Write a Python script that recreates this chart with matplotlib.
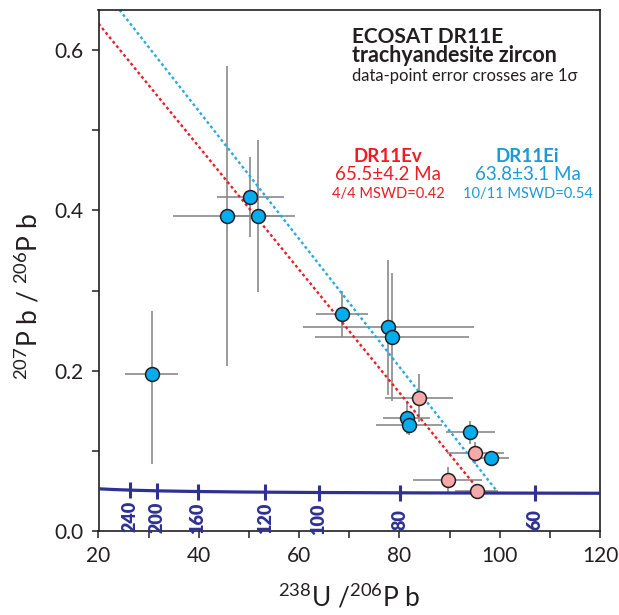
import numpy as np
import matplotlib
matplotlib.use("Agg")
import matplotlib.pyplot as plt

plt.rcParams["font.family"] = ["Lato", "DejaVu Sans"]
plt.rcParams["mathtext.default"] = "regular"

# --- data ------------------------------------------------------------------
# DR11Ei (blue), 238U/206Pb, 207Pb/206Pb and 1-sigma errors
ei_x = [30.6, 45.6, 51.9, 50.3, 68.6, 77.8, 78.5, 81.5, 81.9, 94.1, 98.3]
ei_y = [0.196, 0.393, 0.393, 0.4166, 0.271, 0.254, 0.2425, 0.1404, 0.1325, 0.123, 0.0909]
ei_xerr = [5.3, 10.8, 7.2, 6.6, 5.2, 17.0, 15.3, 4.7, 6.6, 4.9, 3.5]
ei_yerr_lo = [0.112, 0.187, 0.095, 0.05, 0.029, 0.084, 0.08, 0.02, 0.0125, 0.014, 0.005]
ei_yerr_hi = [0.079, 0.187, 0.095, 0.05, 0.029, 0.084, 0.08, 0.02, 0.0125, 0.014, 0.005]

# DR11Ev (pink)
ev_x = [83.9, 95.1, 89.6, 95.4]
ev_y = [0.1659, 0.097, 0.0634, 0.050]
ev_xerr = [6.7, 5.7, 6.8, 4.3]
ev_yerr = [0.030, 0.014, 0.016, 0.004]

# regression (discordia) lines, endpoints
ev_line_x = [20.0, 95.2]
ev_line_y = [0.633, 0.056]
ei_line_x = [24.2, 99.4]
ei_line_y = [0.650, 0.050]

# concordia age ticks (Ma)
age_ticks = [240, 200, 160, 120, 100, 80, 60]

# decay constants (1/yr) and present 238U/235U
L238 = 1.55125e-10
L235 = 9.8485e-10
U_RATIO = 137.88


def tw_concordia(t_ma):
    t = np.asarray(t_ma, dtype=float) * 1e6
    e8 = np.expm1(L238 * t)
    e5 = np.expm1(L235 * t)
    return 1.0 / e8, e5 / e8 / U_RATIO


RED = "#ED1C24"
BLUE = "#1C9AD6"
NAVY = "#2E3192"
GREY = "#8A8A8A"
INK = "#231F20"

fig = plt.figure(figsize=(6.19, 6.15), dpi=100)
ax = fig.add_axes([98.5 / 619, 1 - 531 / 615, 501.5 / 619, 521 / 615])

# error crosses
ax.errorbar(ei_x, ei_y, xerr=ei_xerr, yerr=[ei_yerr_lo, ei_yerr_hi], fmt="none",
            ecolor=GREY, elinewidth=1.2, capsize=0, zorder=1)
ax.errorbar(ev_x, ev_y, xerr=ev_xerr, yerr=ev_yerr, fmt="none",
            ecolor=GREY, elinewidth=1.2, capsize=0, zorder=1)

# discordia lines
ax.plot(ev_line_x, ev_line_y, color=RED, lw=1.7, ls=(0, (1.2, 1.2)), zorder=2)
ax.plot(ei_line_x, ei_line_y, color="#27AAE1", lw=1.7, ls=(0, (1.2, 1.2)), zorder=2)

# concordia curve
t = np.linspace(45, 340, 400)
cx, cy = tw_concordia(t)
ax.plot(cx, cy, color=NAVY, lw=2.3, zorder=3)
tx, ty = tw_concordia(age_ticks)
ax.plot(tx, ty, ls="none", marker="|", ms=12, mew=2.2, color=NAVY, zorder=3)
for age, xx, yy in zip(age_ticks, tx, ty):
    ax.annotate(str(age), (xx, yy), xytext=(0, -19), textcoords="offset points",
                rotation=90, ha="center", va="center", color=NAVY,
                fontsize=13, fontweight="heavy", zorder=3)

# data points
ax.plot(ei_x, ei_y, ls="none", marker="o", ms=10, mfc="#00AEEF",
        mec=INK, mew=1.1, zorder=4)
ax.plot(ev_x, ev_y, ls="none", marker="o", ms=10, mfc="#F5A9A8",
        mec=INK, mew=1.1, zorder=4)

# annotations
ax.text(70.5, 0.609, "ECOSAT DR11E", fontsize=15, fontweight="bold",
        color=INK, va="baseline")
ax.text(70.5, 0.585, "trachyandesite zircon", fontsize=15.5, fontweight="bold",
        color=INK, va="baseline")
ax.text(70.5, 0.561, "data-point error crosses are 1σ", fontsize=12,
        color=INK, va="baseline")

ax.text(77.8, 0.4675, "DR11Ev", fontsize=13.5, fontweight="bold", color=RED,
        ha="center", va="center")
ax.text(77.8, 0.445, "65.5±4.2 Ma", fontsize=13.5, color=RED,
        ha="center", va="center")
ax.text(77.8, 0.421, "4/4 MSWD=0.42", fontsize=10.5, color=RED,
        ha="center", va="center")
ax.text(105.6, 0.4675, "DR11Ei", fontsize=13.5, fontweight="bold", color=BLUE,
        ha="center", va="center")
ax.text(105.6, 0.445, "63.8±3.1 Ma", fontsize=13.5, color=BLUE,
        ha="center", va="center")
ax.text(105.6, 0.421, "10/11 MSWD=0.54", fontsize=10.5, color=BLUE,
        ha="center", va="center")

# axes
ax.set_xlim(20, 120)
ax.set_ylim(0, 0.65)
ax.set_xticks(np.arange(20, 121, 20))
ax.set_xticks(np.arange(30, 120, 20), minor=True)
ax.set_yticks([0.0, 0.2, 0.4, 0.6])
ax.set_yticks([0.1, 0.3, 0.5], minor=True)
ax.set_yticklabels(["0.0", "0.2", "0.4", "0.6"])
ax.tick_params(which="both", direction="out", length=5, width=1.1,
               labelsize=15, color=INK, labelcolor=INK, pad=6)
for sp in ax.spines.values():
    sp.set_linewidth(1.2)
    sp.set_color(INK)

ax.set_xlabel(r"$^{238}$U /$^{206}$P b", fontsize=19, color=INK)
ax.set_ylabel(r"$^{207}$P b / $^{206}$P b", fontsize=19, color=INK)
ax.xaxis.set_label_coords(0.5, -0.1)
ax.yaxis.set_label_coords(-0.112, 0.45)

fig.savefig("out.png", dpi=100)
